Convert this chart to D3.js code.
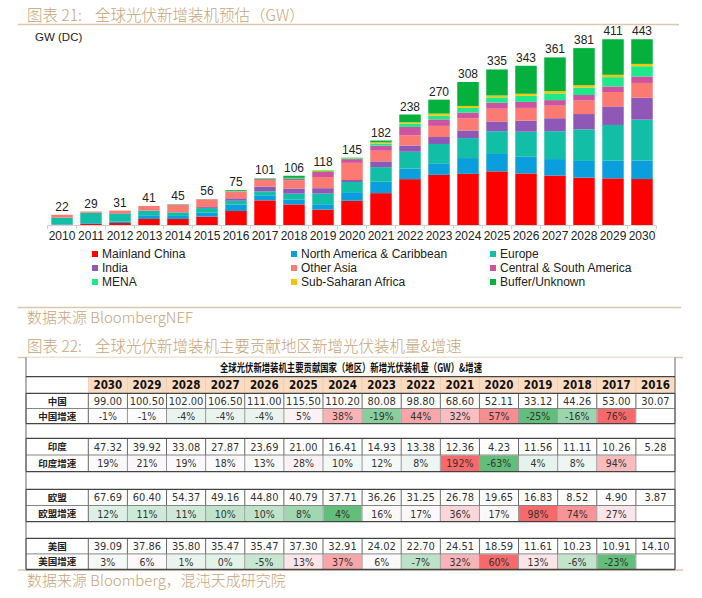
<!DOCTYPE html>
<html><head><meta charset="utf-8">
<script src="https://cdn.jsdelivr.net/npm/d3@7"></script>
<style>body{margin:0;background:#fff}svg{display:block}</style>
</head><body><svg id="c" width="702" height="598"></svg>
<script>
// ---------------- DATA ----------------
const years = ["2010","2011","2012","2013","2014","2015","2016","2017","2018","2019","2020","2021","2022","2023","2024","2025","2026","2027","2028","2029","2030"];
const totals = [22,29,31,41,45,56,75,101,106,118,145,182,238,270,308,335,343,361,381,411,443];
const seriesNames = ["Mainland China","North America & Caribbean","Europe","India","Other Asia","Central & South America","MENA","Sub-Saharan Africa","Buffer/Unknown"];
const mainlandChina = [0.5,2.7,4.3,13,13,18,30.1,53,44.3,33.1,52.1,68.6,98.8,108,110.2,115.5,111,106.5,102,100.5,99];
const northAmerica  = [1,1.5,3,8,6.5,8.5,14.1,11,10.2,11.6,18.6,24.5,23,25,34,37.5,36,35.5,36,38,40];
const europe        = [14.5,21.8,17,9.5,7.5,10,8,8.5,13,23,22,31.5,36,41.5,43,49,54,60,68,77,88];
const india         = [0,0.3,1,0.5,0.5,2,5.3,10.3,11.1,11.6,4.2,12.4,13.4,15,16.4,21,23.7,28,33,40,47];
const otherAsia     = [6,2.7,5.7,10,16,16,13.5,14,17.5,24,37,23,22,24,26.5,27.5,27.5,27,29,31,32];
const csAmerica     = [0,0,0,0,0.5,1,1,2,3,11,8,11,18,14,12,13,13,12,12,12,14];
const mena          = [0,0,0,0,0.5,0.3,0.5,1.5,2,2,2,4.4,7,8,10,11.5,13,14.5,16,20,22];
const subSaharan    = [0,0,0,0,0,0.2,0.5,0.2,0.5,2,0.5,2.6,3,4.5,4.3,4,4.5,5,5,5,5];
const bufferUnknown = [0,0,0,0,0.5,0,2,0.5,4.5,0,0.6,4,16.8,30,51.6,56,60.3,72.5,80,87.5,96];
const yTicks = [0,400];

const tableYears = ["2030","2029","2028","2027","2026","2025","2024","2023","2022","2021","2020","2019","2018","2017","2016"];
const regionNames = ["中国","印度","欧盟","美国"];
const chinaVals  = [99.00,100.50,102.00,106.50,111.00,115.50,110.20,80.08,98.80,68.60,52.11,33.12,44.26,53.00,30.07];
const chinaGrow  = [-1,-1,-4,-4,-4,5,38,-19,44,32,57,-25,-16,76,null];
const indiaVals  = [47.32,39.92,33.08,27.87,23.69,21.00,16.41,14.93,13.38,12.36,4.23,11.56,11.11,10.26,5.28];
const indiaGrow  = [19,21,19,18,13,28,10,12,8,192,-63,4,8,94,null];
const euVals     = [67.69,60.40,54.37,49.16,44.80,40.79,37.71,36.26,31.25,26.78,19.65,16.83,8.52,4.90,3.87];
const euGrow     = [12,11,11,10,10,8,4,16,17,36,17,98,74,27,null];
const usVals     = [39.09,37.86,35.80,35.47,35.47,37.30,32.91,24.02,22.70,24.51,18.59,11.61,10.23,10.91,14.10];
const usGrow     = [3,6,1,0,-5,13,37,6,-7,32,60,13,-6,-23,null];

// ---------------- STYLE ----------------
const seriesColors = ["#ff0000","#0a9fdc","#12bfa6","#8f58b6","#fb7b72","#cd53a1","#1de98b","#f8c300","#03b13c"];
const tan = "#c7a478", tanLine = "#dcc7ab";
const cjk = "'Noto Sans CJK SC','Noto Sans',sans-serif";
const arial = "'Liberation Sans',Arial,sans-serif";
const narrow = "'Liberation Sans Narrow','Arial Narrow','DejaVu Sans Condensed',sans-serif";

const svg = d3.select("#c");

// ---------------- headings ----------------
function heading(y, label, main){
  svg.append("text").attr("x",27).attr("y",y).attr("font-family",cjk).attr("font-size",15.5)
    .attr("font-weight",300).attr("fill",tan).text(label);
  svg.append("text").attr("x",95).attr("y",y).attr("font-family",cjk).attr("font-size",15.5)
    .attr("font-weight",300).attr("fill",tan).text(main);
}
heading(20.5,"图表 21:","全球光伏新增装机预估（GW）");
heading(352,"图表 22:","全球光伏新增装机主要贡献地区新增光伏装机量&增速");
[[24.5,18,679],[307.5,18,681],[357.5,18,683],[570,18,683]].forEach(([y,x1,x2])=>{
  svg.append("line").attr("x1",x1).attr("x2",x2).attr("y1",y).attr("y2",y)
    .attr("stroke",tanLine).attr("stroke-width",1.5);
});
svg.append("text").attr("x",27).attr("y",323).attr("font-family",cjk).attr("font-size",15)
  .attr("font-weight",300).attr("fill",tan).text("数据来源 BloombergNEF");
svg.append("text").attr("x",27).attr("y",586).attr("font-family",cjk).attr("font-size",15)
  .attr("font-weight",300).attr("fill",tan).text("数据来源 Bloomberg，混沌天成研究院");

// ---------------- bar chart ----------------
const x = d3.scaleBand().domain(years).range([47.5,656.5]).paddingInner(0.26).paddingOuter(0.13);
const y = d3.scaleLinear().domain([0,400]).range([225,39.3]);

const seriesArrays = [mainlandChina,northAmerica,europe,india,otherAsia,csAmerica,mena,subSaharan,bufferUnknown];
const rows = years.map((yr,i)=>{
  const o = {year:yr, total:totals[i]};
  seriesNames.forEach((s,j)=>o[s]=seriesArrays[j][i]);
  return o;
});
const stack = d3.stack().keys(seriesNames)(rows);

svg.append("clipPath").attr("id","plotclip").append("rect")
  .attr("x",0).attr("y",y(yTicks[1])).attr("width",702).attr("height",y(yTicks[0])-y(yTicks[1]));

svg.append("text").attr("x",35).attr("y",41).attr("font-family",arial).attr("font-size",11.5)
  .attr("fill","#222").text("GW (DC)");

const gBars = svg.append("g").attr("clip-path","url(#plotclip)");
gBars.selectAll("g").data(stack).join("g").attr("fill",(d,i)=>seriesColors[i])
  .selectAll("rect").data(d=>d).join("rect")
  .attr("x",d=>x(d.data.year)).attr("width",x.bandwidth())
  .attr("y",d=>y(d[1])).attr("height",d=>Math.max(0,y(d[0])-y(d[1])));

// axis
const axis = svg.append("g").attr("transform","translate(0,225)")
  .call(d3.axisBottom(x).tickSize(0).tickPadding(6.5));
axis.select(".domain").remove();
axis.selectAll("text").attr("font-family",arial).attr("font-size",12).attr("fill","#222");
svg.append("line").attr("x1",x.range()[0]).attr("x2",x.range()[1]).attr("y1",225.5).attr("y2",225.5)
  .attr("stroke","#cfcfcf");
const step = x.step();
svg.append("g").selectAll("line").data(d3.range(years.length+1)).join("line")
  .attr("x1",i=>x.range()[0]+i*step).attr("x2",i=>x.range()[0]+i*step)
  .attr("y1",225.5).attr("y2",229).attr("stroke","#cfcfcf");

// totals
svg.append("g").selectAll("text").data(rows).join("text")
  .attr("x",d=>x(d.year)+x.bandwidth()/2)
  .attr("y",d=>y(Math.min(d.total,yTicks[1]))-4)
  .attr("text-anchor","middle").attr("font-family",arial).attr("font-size",12).attr("fill","#222")
  .text(d=>d.total);

// legend
const legCols = [92,291,490], legRows = [254,268,282];
const lg = svg.append("g").selectAll("g").data(seriesNames).join("g")
  .attr("transform",(d,i)=>`translate(${legCols[i%3]},${legRows[Math.floor(i/3)]})`);
lg.append("rect").attr("x",0).attr("y",-3).attr("width",6).attr("height",6).attr("fill",(d,i)=>seriesColors[i]);
lg.append("text").attr("x",10).attr("y",4.3).attr("font-family",arial).attr("font-size",12)
  .attr("fill","#222").text(d=>d);

// ---------------- table ----------------
const tL = 26, tR = 675, labR = 88.3;
const cx = d3.scaleBand().domain(tableYears).range([labR,tR]);
const tg = svg.append("g");
const groups = [
  {name:regionNames[0], vals:chinaVals, grow:chinaGrow, top:393.3, h:15.2},
  {name:regionNames[1], vals:indiaVals, grow:indiaGrow, top:438.3, h:16.7},
  {name:regionNames[2], vals:euVals,    grow:euGrow,    top:489.3, h:16.2},
  {name:regionNames[3], vals:usVals,    grow:usGrow,    top:538.3, h:15.6}
];
const fmt2 = d3.format(".2f");

// title row + header
tg.append("rect").attr("x",tL).attr("y",357.5).attr("width",tR-tL).attr("height",212).attr("fill","#fff");
tg.append("text").attr("x",220).attr("y",372).attr("font-family",cjk).attr("font-weight","bold")
  .attr("font-size",11.5).attr("textLength",262).attr("lengthAdjust","spacingAndGlyphs")
  .attr("fill","#111").text("全球光伏新增装机主要贡献国家（地区）新增光伏装机量（GW）&增速");
tg.selectAll("rect.hd").data(tableYears).join("rect").attr("class","hd")
  .attr("x",d=>cx(d)).attr("y",376.7).attr("width",cx.bandwidth()).attr("height",15.6)
  .attr("fill","#fbdcc2").attr("stroke","#e9c9ad").attr("stroke-width",0.6);
tg.selectAll("text.hd").data(tableYears).join("text").attr("class","hd")
  .attr("x",d=>cx(d)+cx.bandwidth()/2).attr("y",388.8).attr("text-anchor","middle")
  .attr("font-family",narrow).attr("font-weight","bold").attr("font-size",11.5).attr("fill","#111")
  .text(d=>d);

groups.forEach(g=>{
  const ext = d3.extent(g.grow.filter(v=>v!==null));
  const med = d3.median(g.grow.filter(v=>v!==null));
  const col = d3.scaleLinear().domain([ext[0],med,ext[1]]).range(["#63be7b","#fcfcff","#f8696b"]);
  const y0 = g.top, y1 = g.top+g.h, y2 = g.top+2*g.h;
  tg.selectAll(null).data(tableYears).join("rect")
    .attr("x",d=>cx(d)+0.5).attr("y",y1+0.5).attr("width",cx.bandwidth()-1).attr("height",g.h-1)
    .attr("fill",(d,i)=>g.grow[i]===null?"#fff":col(g.grow[i]));
  const xs = [tL,labR].concat(tableYears.map(d=>cx(d)+cx.bandwidth()));
  tg.selectAll(null).data(xs).join("line")
    .attr("x1",d=>d).attr("x2",d=>d).attr("y1",y0).attr("y2",y1)
    .attr("stroke","#555").attr("stroke-width",0.9);
  tg.selectAll(null).data(xs).join("line")
    .attr("x1",d=>d).attr("x2",d=>d).attr("y1",y1).attr("y2",y2)
    .attr("stroke",(d,i)=>(i===0||i===xs.length-1||i===1)?"#555":"#8a8a8a").attr("stroke-width",0.9);
  [y0,y1,y2].forEach((yy,k)=>{
    tg.append("line").attr("x1",tL).attr("x2",tR).attr("y1",yy).attr("y2",yy)
      .attr("stroke",k===1?"#777":"#444").attr("stroke-width",k===1?0.9:1.3);
  });
  tg.append("text").attr("x",(tL+labR)/2).attr("y",y0+g.h/2+3.6).attr("text-anchor","middle")
    .attr("font-family",cjk).attr("font-weight","bold").attr("font-size",9.5).attr("fill","#222")
    .text(g.name);
  tg.append("text").attr("x",(tL+labR)/2).attr("y",y1+g.h/2+3.6).attr("text-anchor","middle")
    .attr("font-family",cjk).attr("font-weight","bold").attr("font-size",9.5).attr("fill","#222")
    .text(g.name+"增速");
  tg.selectAll(null).data(tableYears).join("text")
    .attr("x",d=>cx(d)+cx.bandwidth()/2).attr("y",y0+g.h/2+4).attr("text-anchor","middle")
    .attr("font-family",narrow).attr("font-size",11).attr("fill","#333")
    .text((d,i)=>fmt2(g.vals[i]));
  tg.selectAll(null).data(tableYears).join("text")
    .attr("x",d=>cx(d)+cx.bandwidth()/2).attr("y",y1+g.h/2+4).attr("text-anchor","middle")
    .attr("font-family",narrow).attr("font-size",10.5).attr("fill","#333")
    .text((d,i)=>g.grow[i]===null?"":g.grow[i]+"%");
});
tg.append("line").attr("x1",tL).attr("x2",tL).attr("y1",357.5).attr("y2",569.5).attr("stroke","#555").attr("stroke-width",0.9);
tg.append("line").attr("x1",tR).attr("x2",tR).attr("y1",357.5).attr("y2",569.5).attr("stroke","#555").attr("stroke-width",0.9);
tg.append("line").attr("x1",tL).attr("x2",tR).attr("y1",376.7).attr("y2",376.7).attr("stroke","#444").attr("stroke-width",1.2);
</script></body></html>
